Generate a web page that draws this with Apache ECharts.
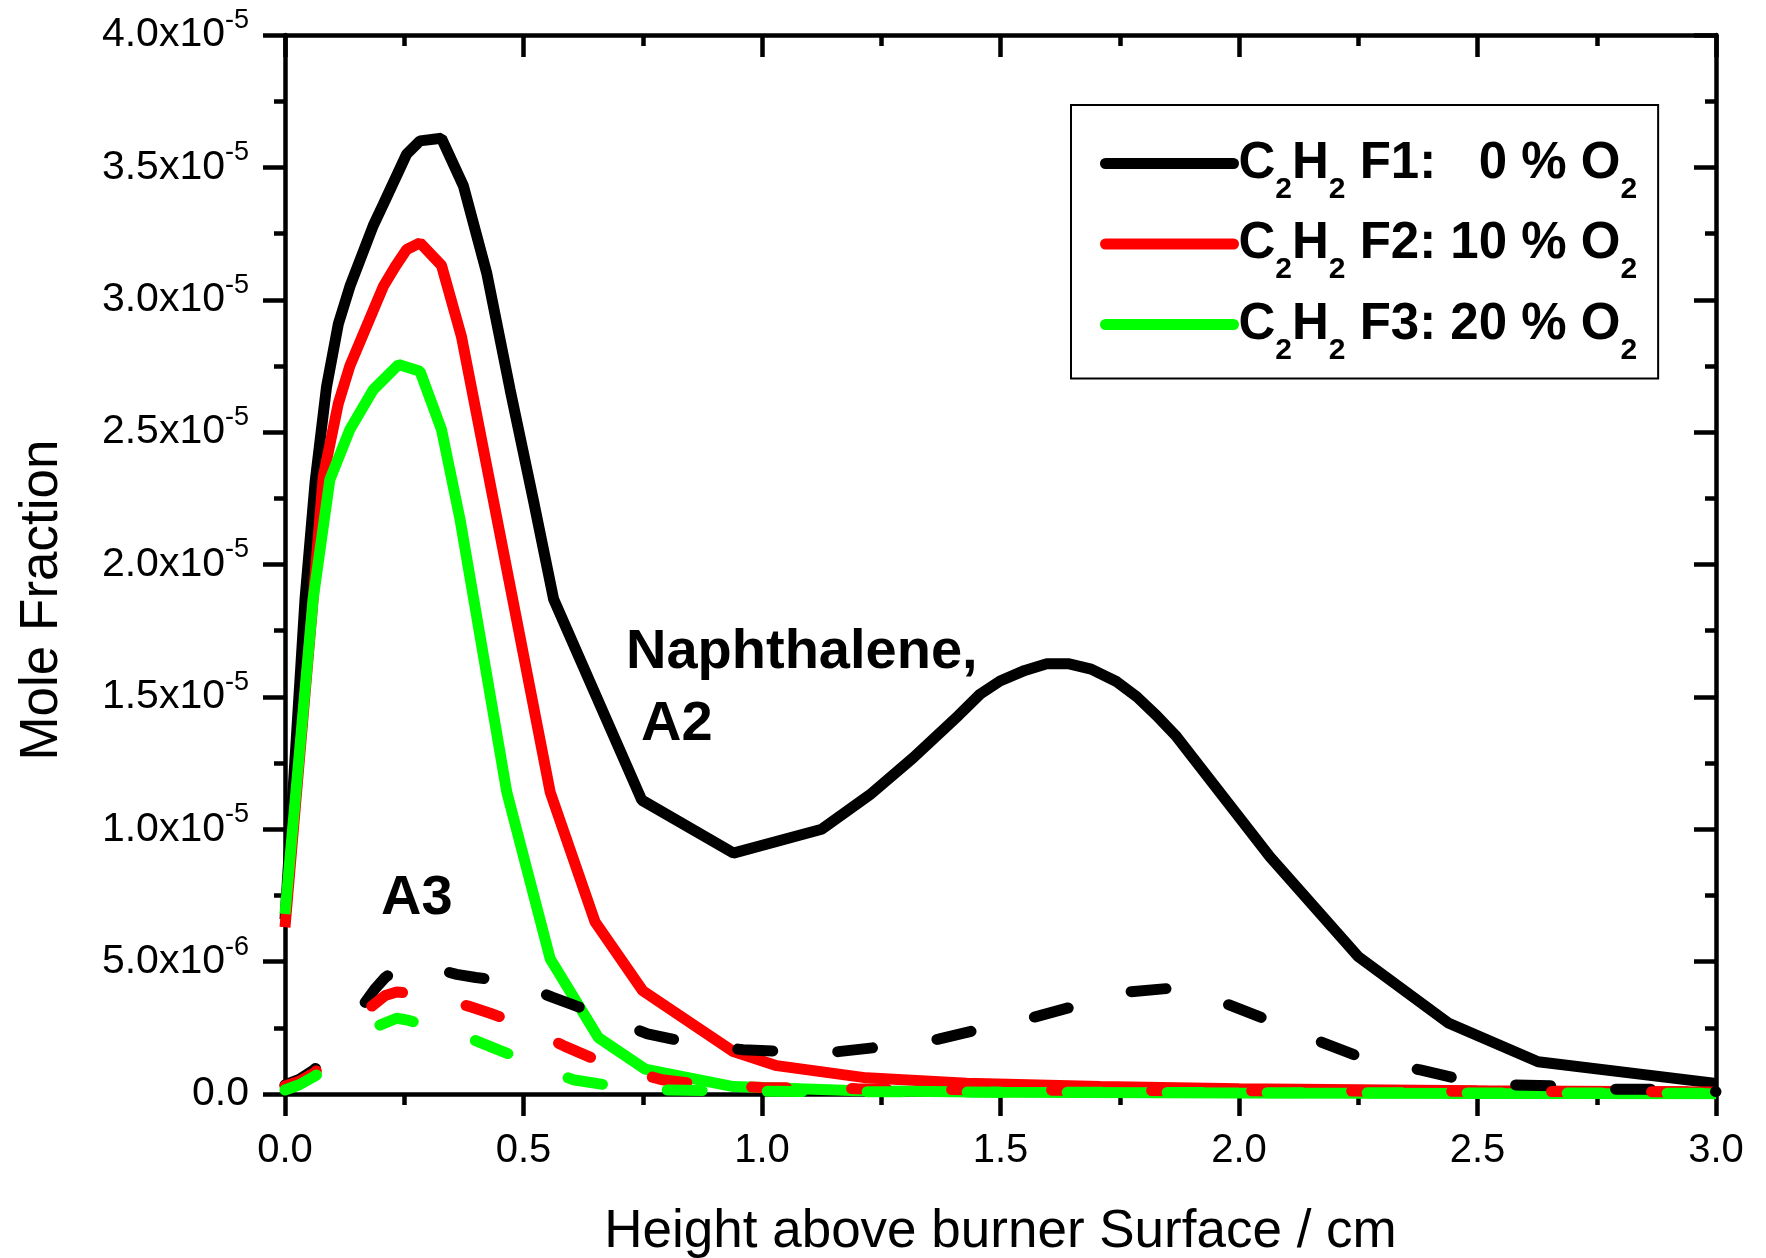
<!DOCTYPE html>
<html><head><meta charset="utf-8">
<script src="https://cdn.jsdelivr.net/npm/echarts@6/dist/echarts.min.js"></script>
<style>html,body{margin:0;padding:0;background:#fff}#c{width:1766px;height:1258px}</style>
</head><body><div id="c"></div>
<script>
// Heights above burner surface (cm) and mole fractions (in units of 1e-5)
// Naphthalene (A2) — solid lines
const a2F1_x = [0, 0.042, 0.063, 0.087, 0.112, 0.136, 0.185, 0.206, 0.255, 0.283, 0.328, 0.374, 0.423, 0.472, 0.521, 0.563, 0.748, 0.940, 1.125, 1.226, 1.317, 1.412, 1.457, 1.499, 1.551, 1.597, 1.644, 1.690, 1.744, 1.786, 1.827, 1.869, 2.065, 2.250, 2.440, 2.627, 3.0];
const a2F1_y = [0.66, 1.87, 2.31, 2.67, 2.91, 3.05, 3.28, 3.36, 3.55, 3.60, 3.61, 3.43, 3.10, 2.66, 2.24, 1.87, 1.11, 0.91, 1.00, 1.13, 1.27, 1.43, 1.51, 1.56, 1.60, 1.625, 1.625, 1.605, 1.557, 1.50, 1.43, 1.35, 0.896, 0.519, 0.267, 0.122, 0.04];

const a2F2_x = [0, 0.059, 0.080, 0.112, 0.136, 0.185, 0.206, 0.231, 0.255, 0.283, 0.328, 0.370, 0.475, 0.556, 0.650, 0.750, 0.940, 1.031, 1.219, 1.429, 1.709, 2.0, 2.5, 3.0];
const a2F2_y = [0.63, 1.87, 2.33, 2.61, 2.75, 2.96, 3.05, 3.125, 3.19, 3.215, 3.13, 2.86, 1.89, 1.14, 0.65, 0.39, 0.16, 0.107, 0.061, 0.041, 0.028, 0.02, 0.012, 0.008];

const a2F3_x = [0, 0.059, 0.094, 0.136, 0.185, 0.238, 0.283, 0.328, 0.367, 0.465, 0.556, 0.657, 0.755, 0.940, 1.2, 1.5, 2.0, 2.5, 3.0];
const a2F3_y = [0.68, 1.87, 2.32, 2.51, 2.66, 2.755, 2.73, 2.51, 2.17, 1.14, 0.51, 0.213, 0.094, 0.028, 0.012, 0.007, 0.004, 0.002, 0.001];

// A3 — dashed lines (null = gap in the data)
const a3F1_x = [0, 0.03, 0.06, 0.091, 0.13, 0.168, 0.19, 0.21, 0.23, 0.25, 0.28, 0.32, 0.36, 0.40, 0.45, 0.50, 0.56, 0.65, 0.76, 0.85, 0.96, 1.06, 1.16, 1.26, 1.37, 1.46, 1.57, 1.66, 1.77, 1.86, 1.97, 2.06, 2.17, 2.26, 2.38, 2.47, 2.58, 2.67, 2.78, 2.87, 3.0];
const a3F1_y = [0.034, 0.055, 0.09, 0.141, null, 0.346, 0.40, 0.44, 0.465, 0.48, 0.485, 0.47, 0.452, 0.44, 0.43, 0.41, 0.366, 0.306, 0.227, 0.193, 0.167, 0.16, 0.16, 0.18, 0.207, 0.246, 0.29, 0.334, 0.386, 0.40, 0.343, 0.28, 0.198, 0.135, 0.091, 0.053, 0.034, 0.03, 0.018, 0.018, 0.009];

const a3F2_x = [0, 0.03, 0.06, 0.091, 0.13, 0.182, 0.21, 0.234, 0.276, 0.33, 0.384, 0.43, 0.479, 0.53, 0.587, 0.681, 0.79, 0.884, 1.0, 1.2, 1.5, 2.0, 2.5, 3.0];
const a3F2_y = [0.03, 0.048, 0.078, 0.125, null, 0.332, 0.372, 0.385, 0.379, 0.36, 0.332, 0.305, 0.273, 0.23, 0.18, 0.107, 0.054, 0.034, 0.025, 0.02, 0.015, 0.012, 0.01, 0.008];

const a3F3_x = [0, 0.03, 0.06, 0.091, 0.14, 0.199, 0.234, 0.26, 0.293, 0.34, 0.402, 0.45, 0.493, 0.55, 0.604, 0.695, 0.8, 1.0, 1.5, 2.0, 2.5, 3.0];
const a3F3_y = [0.015, 0.035, 0.065, 0.10, null, 0.26, 0.286, 0.278, 0.26, 0.235, 0.2, 0.165, 0.134, 0.09, 0.054, 0.028, 0.015, 0.01, 0.007, 0.005, 0.004, 0.003];

const seriesNames = ['C2H2 F1: 0 % O2', 'C2H2 F2: 10 % O2', 'C2H2 F3: 20 % O2'];
const legendRich = ['{m|C}{s|2}{m|H}{s|2}{m| F1:   0 % O}{s|2}',
                    '{m|C}{s|2}{m|H}{s|2}{m| F2: 10 % O}{s|2}',
                    '{m|C}{s|2}{m|H}{s|2}{m| F3: 20 % O}{s|2}'];
const colors = ['#000000', '#ff0000', '#00ff00'];
const xTitle = 'Height above burner Surface / cm';
const yTitle = 'Mole Fraction';
const annotations = ['Naphthalene,', 'A2', 'A3'];

const FONT = 'Liberation Sans, Arial, sans-serif';
function zip(xs, ys) { return xs.map((x, i) => [x, ys[i] === null ? '-' : ys[i]]); }

function yLabel(v) {
  if (Math.abs(v) < 1e-12) return '{a|0.0}';
  const val = v * 1e-5;
  const e = Math.floor(Math.log10(val) + 1e-9);
  const m = val / Math.pow(10, e);
  return '{a|' + m.toFixed(1) + 'x10}{b|' + e + '}';
}

const chart = echarts.init(document.getElementById('c'), null, {renderer: 'canvas'});

const AX_W = 4.5;
const axisLineStyle = {lineStyle: {color: '#000', width: AX_W}};
const tickOut = {show: true, inside: false, length: 22, lineStyle: {color: '#000', width: AX_W}};
const tickIn = {show: true, inside: true, length: 22, lineStyle: {color: '#000', width: AX_W}};
const minorOut = {show: true, splitNumber: 2, length: 11, lineStyle: {color: '#000', width: AX_W}};

const LW = 11;
const solid = (name, xs, ys, c) => ({
  name: name, type: 'line', data: zip(xs, ys), symbol: 'none', smooth: false,
  lineStyle: {color: c, width: LW, type: 'solid'}, itemStyle: {color: c}, z: 2
});
const dashed = (name, xs, ys, c) => ({
  name: name, type: 'line', data: zip(xs, ys), symbol: 'none', smooth: false, connectNulls: false,
  lineStyle: {color: c, width: LW, type: [35, 65], cap: 'round'}, itemStyle: {color: c}, z: 3
});

chart.setOption({
  animation: false,
  backgroundColor: '#fff',
  grid: {left: 285, right: 50, top: 35, bottom: 164, containLabel: false, outerBoundsMode: 'none'},
  xAxis: [{
    type: 'value', position: 'bottom', min: 0, max: 3, interval: 0.5,
    axisLine: Object.assign({show: true, onZero: false}, axisLineStyle),
    axisTick: tickOut, minorTick: minorOut, splitLine: {show: false},
    axisLabel: {show: true, margin: 37, color: '#000', fontSize: 40, fontFamily: FONT,
      formatter: v => v.toFixed(1)},
    name: xTitle, nameLocation: 'middle', nameGap: 112,
    nameTextStyle: {fontSize: 53, fontFamily: FONT, color: '#000'}
  }, {
    type: 'value', position: 'top', min: 0, max: 3, interval: 0.5,
    axisLine: Object.assign({show: true, onZero: false}, axisLineStyle),
    axisTick: tickIn, minorTick: minorOut, splitLine: {show: false},
    axisLabel: {show: false}
  }],
  yAxis: [{
    type: 'value', position: 'left', min: 0, max: 4, interval: 0.5,
    axisLine: Object.assign({show: true, onZero: false}, axisLineStyle),
    axisTick: tickOut, minorTick: minorOut, splitLine: {show: false},
    axisLabel: {show: true, margin: 36, color: '#000', formatter: yLabel,
      rich: {
        a: {fontSize: 41, lineHeight: 56, fontFamily: FONT, color: '#000'},
        b: {fontSize: 27, lineHeight: 27, fontFamily: FONT, color: '#000', verticalAlign: 'top'}
      }}
  }, {
    type: 'value', position: 'right', min: 0, max: 4, interval: 0.5,
    axisLine: Object.assign({show: true, onZero: false}, axisLineStyle),
    axisTick: tickIn, minorTick: minorOut, splitLine: {show: false},
    axisLabel: {show: false}
  }],
  legend: {
    data: seriesNames, orient: 'vertical', left: 1071, top: 105,
    padding: [33, 21, 13, 29], itemWidth: 128, itemHeight: 4, itemGap: 14,
    borderColor: '#000', borderWidth: 2, backgroundColor: '#fff', selectedMode: false,
    lineStyle: {width: 11, cap: 'round'},
    itemStyle: {opacity: 0},
    formatter: name => legendRich[seriesNames.indexOf(name)],
    textStyle: {color: '#000',
      rich: {
        m: {fontSize: 51, fontWeight: 'bold', lineHeight: 82, fontFamily: FONT, color: '#000'},
        s: {fontSize: 30, fontWeight: 'bold', lineHeight: 26, fontFamily: FONT, color: '#000', verticalAlign: 'bottom'}
      }}
  },
  graphic: [
    {type: 'text', x: 42, y: 600, rotation: Math.PI / 2,
      style: {text: yTitle, fontSize: 53, fontFamily: FONT, fill: '#000',
        align: 'center', textAlign: 'center', verticalAlign: 'middle', textVerticalAlign: 'middle'}},
    {type: 'text', x: 626, y: 653,
      style: {text: annotations[0], fontSize: 56, fontWeight: 'bold', fontFamily: FONT, fill: '#000',
        align: 'left', textAlign: 'left', verticalAlign: 'middle', textVerticalAlign: 'middle'}},
    {type: 'text', x: 641, y: 725,
      style: {text: annotations[1], fontSize: 56, fontWeight: 'bold', fontFamily: FONT, fill: '#000',
        align: 'left', textAlign: 'left', verticalAlign: 'middle', textVerticalAlign: 'middle'}},
    {type: 'text', x: 381, y: 899,
      style: {text: annotations[2], fontSize: 56, fontWeight: 'bold', fontFamily: FONT, fill: '#000',
        align: 'left', textAlign: 'left', verticalAlign: 'middle', textVerticalAlign: 'middle'}}
  ],
  series: [
    solid(seriesNames[0], a2F1_x, a2F1_y, colors[0]),
    solid(seriesNames[1], a2F2_x, a2F2_y, colors[1]),
    solid(seriesNames[2], a2F3_x, a2F3_y, colors[2]),
    dashed('A3 F1', a3F1_x, a3F1_y, colors[0]),
    dashed('A3 F2', a3F2_x, a3F2_y, colors[1]),
    dashed('A3 F3', a3F3_x, a3F3_y, colors[2])
  ]
});
</script></body></html>
